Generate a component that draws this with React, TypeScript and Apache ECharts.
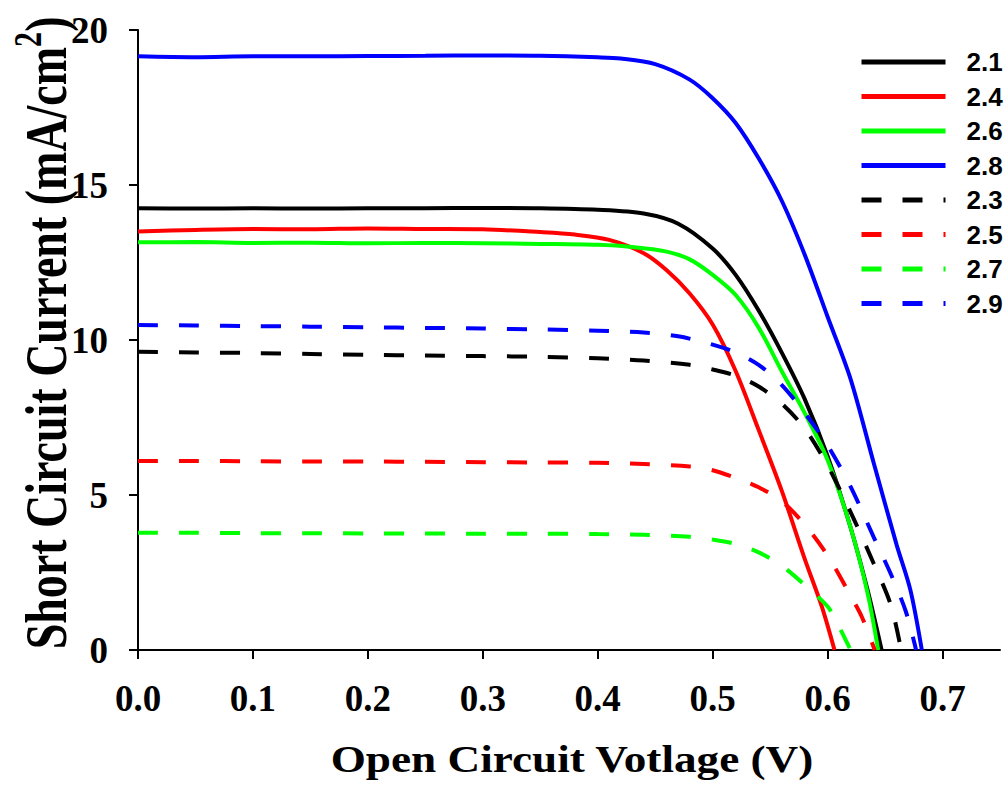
import React, { useEffect, useRef } from "react";
import * as echarts from "echarts";

// Series names (legend order)
const seriesNames = ["2.1", "2.4", "2.6", "2.8", "2.3", "2.5", "2.7", "2.9"];
const seriesColors = ["#000000", "#ff0000", "#00ff00", "#0000ff", "#000000", "#ff0000", "#00ff00", "#0000ff"];
const seriesDashed = [false, false, false, false, true, true, true, true];

// Voltage (V) / current (mA/cm2) per series
const v21 = [0, 0.05, 0.1, 0.15, 0.2, 0.25, 0.3, 0.35, 0.4, 0.44, 0.47, 0.5, 0.52, 0.54, 0.56, 0.58, 0.6, 0.62, 0.635, 0.647];
const j21 = [14.25, 14.24, 14.25, 14.24, 14.25, 14.25, 14.26, 14.25, 14.2, 14.08, 13.75, 12.95, 12.1, 10.95, 9.6, 8.1, 6.25, 3.95, 1.9, 0];

const v24 = [0, 0.05, 0.1, 0.15, 0.2, 0.25, 0.3, 0.35, 0.38, 0.41, 0.44, 0.46, 0.48, 0.5, 0.52, 0.54, 0.56, 0.58, 0.595, 0.606];
const j24 = [13.5, 13.55, 13.58, 13.57, 13.6, 13.58, 13.57, 13.48, 13.4, 13.23, 12.8, 12.25, 11.5, 10.5, 9.0, 7.1, 5.15, 2.95, 1.4, 0];

const v26 = [0, 0.05, 0.1, 0.15, 0.2, 0.25, 0.3, 0.35, 0.4, 0.43, 0.46, 0.48, 0.5, 0.52, 0.54, 0.56, 0.58, 0.6, 0.62, 0.635, 0.644];
const j26 = [13.15, 13.16, 13.13, 13.14, 13.12, 13.13, 13.12, 13.1, 13.07, 13.0, 12.85, 12.6, 12.1, 11.45, 10.4, 9.0, 7.65, 6.13, 3.95, 1.8, 0];

const v28 = [0, 0.05, 0.1, 0.15, 0.2, 0.25, 0.3, 0.35, 0.4, 0.42, 0.45, 0.48, 0.5, 0.52, 0.54, 0.56, 0.58, 0.6, 0.62, 0.64, 0.66, 0.672, 0.682];
const j28 = [19.15, 19.12, 19.15, 19.15, 19.16, 19.17, 19.18, 19.17, 19.12, 19.08, 18.9, 18.4, 17.8, 17.0, 15.86, 14.5, 12.76, 10.75, 8.74, 6.05, 3.4, 1.94, 0];

const v23 = [0, 0.05, 0.1, 0.15, 0.2, 0.25, 0.3, 0.35, 0.4, 0.44, 0.48, 0.5, 0.52, 0.54, 0.56, 0.58, 0.6, 0.62, 0.64, 0.655, 0.664];
const j23 = [9.62, 9.6, 9.58, 9.55, 9.52, 9.5, 9.48, 9.46, 9.41, 9.34, 9.2, 9.05, 8.85, 8.5, 7.95, 7.15, 5.95, 4.45, 2.8, 1.45, 0];

const v25 = [0, 0.05, 0.1, 0.15, 0.2, 0.25, 0.3, 0.35, 0.4, 0.44, 0.48, 0.5, 0.52, 0.54, 0.56, 0.58, 0.6, 0.62, 0.63, 0.641];
const j25 = [6.1, 6.1, 6.09, 6.08, 6.08, 6.07, 6.06, 6.05, 6.04, 6.0, 5.92, 5.8, 5.55, 5.25, 4.8, 4.05, 3.05, 1.75, 1.05, 0];

const v27 = [0, 0.05, 0.1, 0.15, 0.2, 0.25, 0.3, 0.35, 0.4, 0.44, 0.48, 0.5, 0.52, 0.54, 0.56, 0.58, 0.6, 0.61, 0.62];
const j27 = [3.78, 3.78, 3.77, 3.77, 3.76, 3.76, 3.75, 3.75, 3.74, 3.72, 3.65, 3.56, 3.42, 3.15, 2.72, 2.1, 1.4, 0.75, 0];

const v29 = [0, 0.05, 0.1, 0.15, 0.2, 0.25, 0.3, 0.35, 0.4, 0.44, 0.47, 0.5, 0.52, 0.54, 0.56, 0.58, 0.6, 0.62, 0.64, 0.655, 0.668, 0.677];
const j29 = [10.48, 10.47, 10.45, 10.43, 10.41, 10.39, 10.37, 10.34, 10.3, 10.24, 10.12, 9.85, 9.6, 9.2, 8.55, 7.65, 6.6, 5.27, 3.65, 2.45, 1.25, 0];

const seriesV = [v21, v24, v26, v28, v23, v25, v27, v29];
const seriesJ = [j21, j24, j26, j28, j23, j25, j27, j29];

// Axis ticks
const xTicks = [0, 0.1, 0.2, 0.3, 0.4, 0.5, 0.6, 0.7];
const yTicks = [0, 5, 10, 15, 20];

const xTitle = "Open Circuit Votlage (V)";
const yTitleMain = "Short Circuit Current (mA/cm";
const yTitleSup = "2";
const yTitleEnd = ")";

const SERIF = '"Liberation Serif", "Times New Roman", serif';
const SANS = '"Liberation Sans", Arial, sans-serif';

export default function App() {
  const ref = useRef<HTMLDivElement>(null);

  useEffect(() => {
    if (!ref.current) return;
    const chart = echarts.init(ref.current, undefined, { renderer: "svg" });

    const series = seriesNames.map((name, i) => ({
      name,
      type: "line",
      data: seriesV[i].map((v, k) => [v, seriesJ[i][k]]),
      showSymbol: false,
      symbol: "none",
      smooth: 0.3,
      clip: true,
      lineStyle: {
        color: seriesColors[i],
        width: 4,
        type: seriesDashed[i] ? [20, 21] : "solid",
      },
      itemStyle: { color: seriesColors[i] },
      z: seriesDashed[i] ? 3 : 2,
    }));

    chart.setOption({
      animation: false,
      backgroundColor: "#ffffff",
      grid: { left: 138, right: 5, top: 30, bottom: 138, containLabel: false },
      xAxis: {
        type: "value",
        min: 0,
        max: 0.75,
        interval: 0.1,
        splitLine: { show: false },
        axisLine: { show: true, onZero: false, lineStyle: { color: "#000", width: 2 } },
        axisTick: { show: true, inside: false, length: 9, lineStyle: { color: "#000", width: 2 }, customValues: xTicks },
        axisLabel: {
          customValues: xTicks,
          formatter: (val: number) => val.toFixed(1),
          fontFamily: SERIF,
          fontWeight: "bold",
          fontSize: 37,
          color: "#000",
          margin: 30,
        },
      },
      yAxis: {
        type: "value",
        min: 0,
        max: 20,
        interval: 5,
        splitLine: { show: false },
        axisLine: { show: true, onZero: false, lineStyle: { color: "#000", width: 2 } },
        axisTick: { show: true, inside: false, length: 9, lineStyle: { color: "#000", width: 2 }, customValues: yTicks },
        axisLabel: {
          customValues: yTicks,
          fontFamily: SERIF,
          fontWeight: "bold",
          fontSize: 37,
          color: "#000",
          margin: 30,
        },
      },
      legend: {
        data: seriesNames,
        orient: "vertical",
        left: 859,
        top: 49,
        padding: 0,
        itemWidth: 84,
        itemHeight: 14,
        itemGap: 8.5,
        selectedMode: false,
        itemStyle: { opacity: 0, borderWidth: 0 },
        lineStyle: { width: 5 },
        textStyle: {
          fontFamily: SANS,
          fontWeight: "bold",
          fontSize: 26,
          lineHeight: 26,
          color: "#000",
          padding: [0, 0, 0, 16],
        },
      },
      graphic: [
        {
          type: "text",
          x: 572,
          y: 759,
          scaleX: 1.19,
          scaleY: 1,
          style: {
            text: xTitle,
            fill: "#000",
            font: `bold 38px ${SERIF}`,
            textAlign: "center",
            textVerticalAlign: "middle",
          },
        },
        {
          type: "text",
          x: 42,
          y: 333,
          rotation: Math.PI / 2,
          scaleX: 1,
          scaleY: 1.3,
          style: {
            text: `{m|${yTitleMain}}{s|${yTitleSup}}{m|${yTitleEnd}}`,
            fill: "#000",
            textAlign: "center",
            textVerticalAlign: "middle",
            rich: {
              m: { fontFamily: SERIF, fontWeight: "bold", fontSize: 46, fill: "#000", verticalAlign: "bottom", lineHeight: 52 },
              s: { fontFamily: SERIF, fontWeight: "bold", fontSize: 30, fill: "#000", verticalAlign: "top", lineHeight: 52 },
            },
          },
        },
      ],
      series,
    });

    return () => chart.dispose();
  }, []);

  return (
    <div
      ref={ref}
      style={{ position: "absolute", left: 0, top: 0, width: 1005, height: 788, background: "#fff" }}
    />
  );
}
